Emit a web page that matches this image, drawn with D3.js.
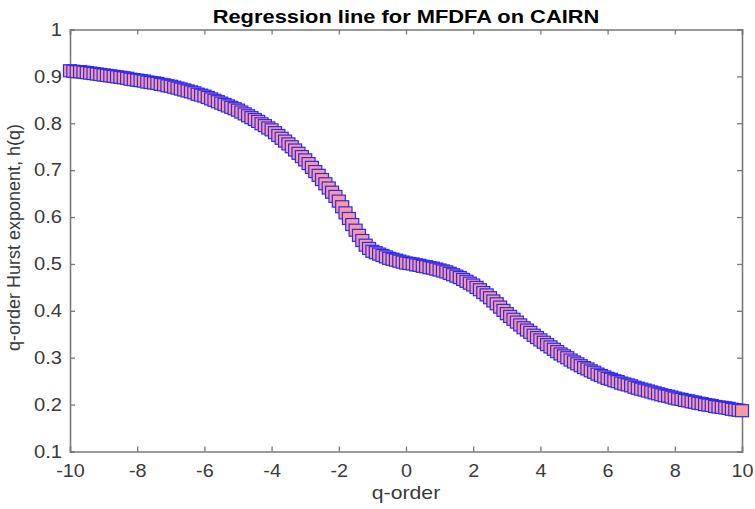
<!DOCTYPE html>
<html>
<head>
<meta charset="utf-8">
<script src="https://cdn.jsdelivr.net/npm/d3@7"></script>
<style>
  body { margin: 0; background: #fff; }
  svg { display: block; }
  text { font-family: "Liberation Sans", Arial, Helvetica, sans-serif; }
</style>
</head>
<body>
<div class="vis"></div>
<script>
    // q = -10:0.1:10
    const qOrder = d3.range(-100, 101).map(k => k / 10);

    // h(q), one row per unit of q
    const hurst = [
        0.912, 0.911, 0.910, 0.910, 0.909, 0.908, 0.907, 0.906, 0.905, 0.904,
        0.903, 0.902, 0.901, 0.900, 0.899, 0.898, 0.897, 0.896, 0.894, 0.893,
        0.892, 0.891, 0.890, 0.888, 0.887, 0.886, 0.885, 0.883, 0.882, 0.880,
        0.879, 0.877, 0.875, 0.873, 0.871, 0.869, 0.867, 0.865, 0.862, 0.860,
        0.858, 0.855, 0.852, 0.849, 0.846, 0.843, 0.840, 0.837, 0.834, 0.831,
        0.828, 0.824, 0.820, 0.816, 0.812, 0.808, 0.804, 0.799, 0.795, 0.790,
        0.786, 0.780, 0.774, 0.768, 0.762, 0.756, 0.750, 0.743, 0.736, 0.729,
        0.722, 0.714, 0.706, 0.697, 0.689, 0.680, 0.671, 0.662, 0.653, 0.644,
        0.634, 0.622, 0.609, 0.597, 0.584, 0.572, 0.561, 0.550, 0.540, 0.533,
        0.527, 0.524, 0.521, 0.518, 0.515, 0.512, 0.510, 0.508, 0.506, 0.504,
        0.502, 0.501, 0.500, 0.498, 0.497, 0.495, 0.494, 0.492, 0.491, 0.489,
        0.487, 0.485, 0.483, 0.480, 0.477, 0.474, 0.471, 0.467, 0.463, 0.459,
        0.455, 0.450, 0.445, 0.439, 0.434, 0.428, 0.421, 0.415, 0.408, 0.401,
        0.394, 0.388, 0.382, 0.376, 0.370, 0.364, 0.359, 0.354, 0.348, 0.343,
        0.338, 0.333, 0.328, 0.323, 0.318, 0.313, 0.308, 0.304, 0.300, 0.295,
        0.291, 0.287, 0.283, 0.279, 0.276, 0.272, 0.269, 0.265, 0.262, 0.259,
        0.256, 0.254, 0.251, 0.249, 0.246, 0.244, 0.242, 0.240, 0.237, 0.235,
        0.233, 0.231, 0.229, 0.227, 0.225, 0.223, 0.221, 0.219, 0.218, 0.216,
        0.214, 0.212, 0.211, 0.209, 0.208, 0.206, 0.205, 0.203, 0.202, 0.200,
        0.199, 0.198, 0.196, 0.195, 0.194, 0.193, 0.192, 0.190, 0.189, 0.188,
        0.187
    ];

    const xTicks = [-10, -8, -6, -4, -2, 0, 2, 4, 6, 8, 10];
    const yTicks = [0.1, 0.2, 0.3, 0.4, 0.5, 0.6, 0.7, 0.8, 0.9, 1];

    const titleText = "Regression line for MFDFA on CAIRN";
    const xLabelText = "q-order";
    const yLabelText = "q-order Hurst exponent, h(q)";

    const dimensions = {
        width: 755,
        height: 509,
        margin: { left: 70, right: 13, top: 29.5, bottom: 57.5 }
    };
    const innerW = dimensions.width - dimensions.margin.left - dimensions.margin.right;
    const innerH = dimensions.height - dimensions.margin.top - dimensions.margin.bottom;

    const svg = d3.select(".vis").append("svg")
        .attr("width", dimensions.width)
        .attr("height", dimensions.height);

    const x = d3.scaleLinear().domain([-10, 10]).range([0, innerW]);
    const y = d3.scaleLinear().domain([0.1, 1]).range([innerH, 0]);

    const g = svg.append("g")
        .attr("transform", `translate(${dimensions.margin.left},${dimensions.margin.top})`);

    const axisColor = "#7a7a7a";
    const tickLen = 5;

    // bottom / left axes with labels, ticks pointing inward
    const xAxis = g.append("g")
        .attr("transform", `translate(0,${innerH})`)
        .call(d3.axisBottom(x).tickValues(xTicks).tickSize(-tickLen).tickPadding(13)
            .tickFormat(d => d));
    const yAxis = g.append("g")
        .call(d3.axisLeft(y).tickValues(yTicks).tickSize(-tickLen).tickPadding(8)
            .tickFormat(d => d));

    // top / right: ticks only
    g.append("g")
        .call(d3.axisTop(x).tickValues(xTicks).tickSize(-tickLen).tickFormat(""));
    g.append("g")
        .attr("transform", `translate(${innerW},0)`)
        .call(d3.axisRight(y).tickValues(yTicks).tickSize(-tickLen).tickFormat(""));

    g.selectAll(".domain")
        .attr("stroke", axisColor)
        .attr("stroke-width", 1.6);
    g.selectAll(".tick line")
        .attr("stroke", axisColor)
        .attr("stroke-width", 1.3);
    g.selectAll(".tick text")
        .attr("fill", "#3a3a3a")
        .style("font-size", "18px");

    // stretch tick labels a bit sideways, like the reference
    xAxis.selectAll(".tick text")
        .attr("transform", "scale(1.1,1)")
        .attr("x", 0);
    yAxis.selectAll(".tick text")
        .each(function() {
            const t = d3.select(this);
            const px = +t.attr("x");
            t.attr("x", 0).attr("transform", `translate(${px},0) scale(1.12,1)`);
        });

    // markers, drawn in order so later ones overlap earlier ones
    const mw = 13, mh = 12;
    g.append("g")
        .selectAll("rect")
        .data(qOrder.map((q, i) => ({ q: q, h: hurst[i] })))
        .enter().append("rect")
        .attr("x", d => x(d.q) - mw / 2)
        .attr("y", d => y(d.h) - mh / 2)
        .attr("width", mw)
        .attr("height", mh)
        .attr("fill", "#fa9a9e")
        .attr("stroke", "#2a2af2")
        .attr("stroke-width", 1.2);

    // title
    svg.append("text")
        .attr("transform", `translate(${dimensions.margin.left + innerW / 2},22.5) scale(1.25,1)`)
        .attr("text-anchor", "middle")
        .style("font-size", "17.5px")
        .style("font-weight", "bold")
        .attr("fill", "#000")
        .text(titleText);

    // x label
    svg.append("text")
        .attr("transform", `translate(${dimensions.margin.left + innerW / 2},499) scale(1.18,1)`)
        .attr("text-anchor", "middle")
        .style("font-size", "18px")
        .attr("fill", "#3a3a3a")
        .text(xLabelText);

    // y label
    svg.append("text")
        .attr("transform", `translate(20,${dimensions.margin.top + innerH / 2 - 3}) rotate(-90)`)
        .attr("text-anchor", "middle")
        .style("font-size", "18px")
        .attr("fill", "#3a3a3a")
        .text(yLabelText);
</script>
</body>
</html>
